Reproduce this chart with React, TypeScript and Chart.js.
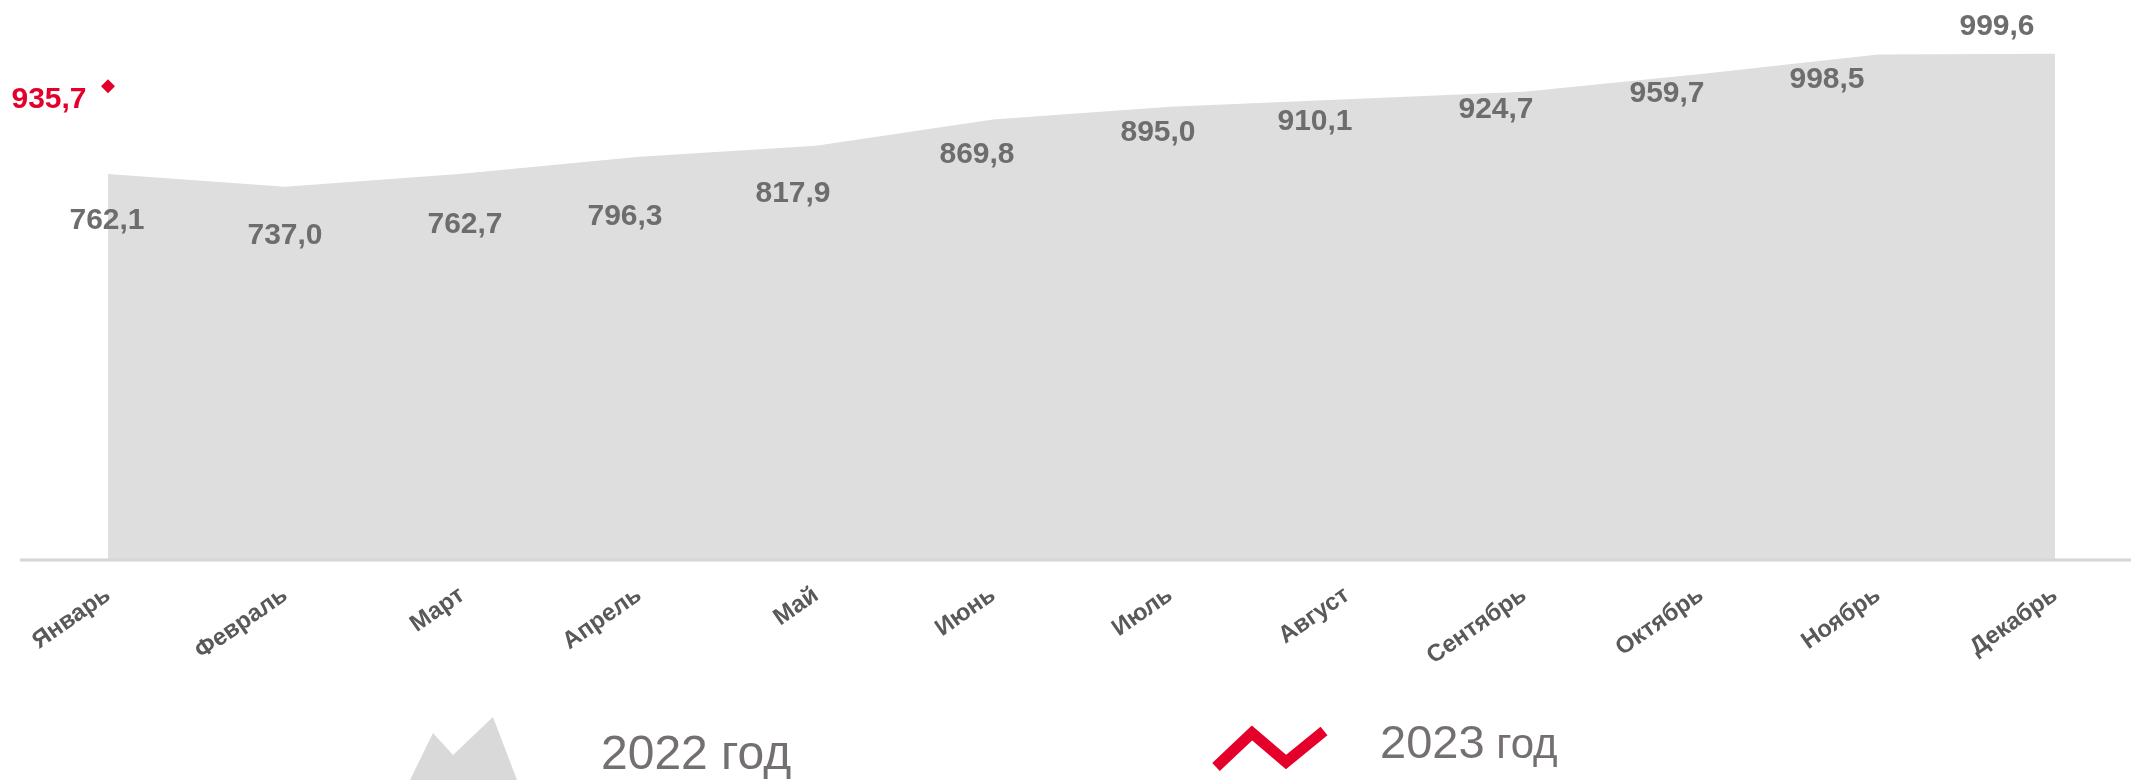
import React, { useEffect, useRef } from "react";
import { Chart, registerables } from "chart.js";

Chart.register(...registerables);

const MONTHS = [
  "Январь",
  "Февраль",
  "Март",
  "Апрель",
  "Май",
  "Июнь",
  "Июль",
  "Август",
  "Сентябрь",
  "Октябрь",
  "Ноябрь",
  "Декабрь",
];
const VALUES_2022 = [762.1, 737.0, 762.7, 796.3, 817.9, 869.8, 895.0, 910.1, 924.7, 959.7, 998.5, 999.6];
const VALUES_2023: (number | null)[] = [935.7, null, null, null, null, null, null, null, null, null, null, null];
const SERIES_NAMES = ["2022 год", "2023 год"];
const Y_MIN = 0;
const Y_MAX = 1100;

// label placement (pixel offsets from each point, text baseline)
const LABEL_OFFSETS_2022: [number, number][] = [
  [-1, 55], [0, 57], [3, 59], [-14, 68], [-23, 56], [-16, 43],
  [-12, 34], [-32, 31], [-28, 26], [-34, 28], [-51, 34], [-58, -19],
];
const LABEL_OFFSETS_2023: [number, number][] = [[-59, 22]];

const FONT = '"Liberation Sans", Arial, Helvetica, sans-serif';
const GRAY_AREA = "#dedede";
const GRAY_LABEL = "#6d6d6d";
const GRAY_TICK = "#595959";
const GRAY_LEGEND = "#757070";
const RED = "#e4002b";

const fmt = (v: number) => v.toFixed(1).replace(".", ",");

const axisLinePlugin = {
  id: "axisLine",
  afterDatasetsDraw(chart: any) {
    const ctx = chart.ctx;
    const y = chart.scales.y.getPixelForValue(Y_MIN);
    ctx.save();
    ctx.strokeStyle = "#d6d6d6";
    ctx.lineWidth = 3;
    ctx.beginPath();
    ctx.moveTo(20, y);
    ctx.lineTo(chart.width, y);
    ctx.stroke();
    ctx.restore();
  },
};

const valueLabelsPlugin = {
  id: "valueLabels",
  afterDatasetsDraw(chart: any) {
    const ctx = chart.ctx;
    chart.data.datasets.forEach((ds: any, di: number) => {
      const meta = chart.getDatasetMeta(di);
      const offsets = di === 0 ? LABEL_OFFSETS_2022 : LABEL_OFFSETS_2023;
      meta.data.forEach((el: any, i: number) => {
        const v = ds.data[i];
        if (v == null) return;
        const off = offsets[i] || [0, -12];
        ctx.save();
        ctx.font = `bold 30px ${FONT}`;
        ctx.fillStyle = di === 0 ? GRAY_LABEL : RED;
        ctx.textAlign = "center";
        ctx.textBaseline = "alphabetic";
        ctx.fillText(fmt(v), el.x + off[0], el.y + off[1]);
        ctx.restore();
      });
    });
  },
};

export default function App() {
  const canvasRef = useRef<HTMLCanvasElement | null>(null);

  useEffect(() => {
    if (!canvasRef.current) return;
    const chart = new Chart(canvasRef.current, {
      type: "line",
      data: {
        labels: MONTHS,
        datasets: [
          {
            label: SERIES_NAMES[0],
            data: VALUES_2022,
            fill: "origin",
            backgroundColor: GRAY_AREA,
            borderColor: "rgba(0,0,0,0)",
            borderWidth: 0,
            pointRadius: 0,
            tension: 0,
            order: 2,
          },
          {
            label: SERIES_NAMES[1],
            data: VALUES_2023,
            showLine: false,
            fill: false,
            pointStyle: "rectRot",
            pointRadius: 7,
            pointBorderWidth: 0,
            pointBackgroundColor: RED,
            borderColor: RED,
            backgroundColor: RED,
            order: 1,
          },
        ],
      },
      options: {
        animation: false,
        responsive: true,
        maintainAspectRatio: false,
        layout: { autoPadding: false, padding: { left: 108, right: 76, top: 3, bottom: 0 } },
        plugins: {
          legend: { display: false },
          tooltip: { enabled: false },
        },
        scales: {
          x: {
            offset: false,
            grid: { display: false, drawTicks: false },
            border: { display: false },
            ticks: {
              autoSkip: false,
              maxRotation: 35,
              minRotation: 35,
              padding: 21,
              color: GRAY_TICK,
              font: { family: FONT, size: 24, weight: "bold" },
            },
            afterFit: (axis: any) => {
              axis.height = 220;
            },
          },
          y: {
            display: false,
            min: Y_MIN,
            max: Y_MAX,
          },
        },
      },
      plugins: [axisLinePlugin, valueLabelsPlugin],
    });
    return () => chart.destroy();
  }, []);

  return (
    <div
      style={{
        position: "fixed",
        left: 0,
        top: 0,
        width: 2131,
        height: 780,
        background: "#ffffff",
        overflow: "hidden",
      }}
    >
      <canvas ref={canvasRef} style={{ position: "absolute", left: 0, top: 0 }} />
      <svg
        width={2131}
        height={780}
        style={{ position: "absolute", left: 0, top: 0, pointerEvents: "none" }}
      >
        <polygon points="410,780 433,733 453,755 493,717 517,780" fill="#d9d9d9" />
        <text x={601} y={769} fontFamily={FONT} fontSize={48} fill={GRAY_LEGEND}>
          {SERIES_NAMES[0]}
        </text>
        <polyline
          points="1216,767 1252,733 1286,762 1324,731"
          fill="none"
          stroke={RED}
          strokeWidth={11}
          strokeLinejoin="miter"
        />
        <text x={1380} y={758} fontFamily={FONT} fill={GRAY_LEGEND}>
          <tspan fontSize={47}>2023</tspan>
          <tspan fontSize={42}> год</tspan>
        </text>
      </svg>
    </div>
  );
}
